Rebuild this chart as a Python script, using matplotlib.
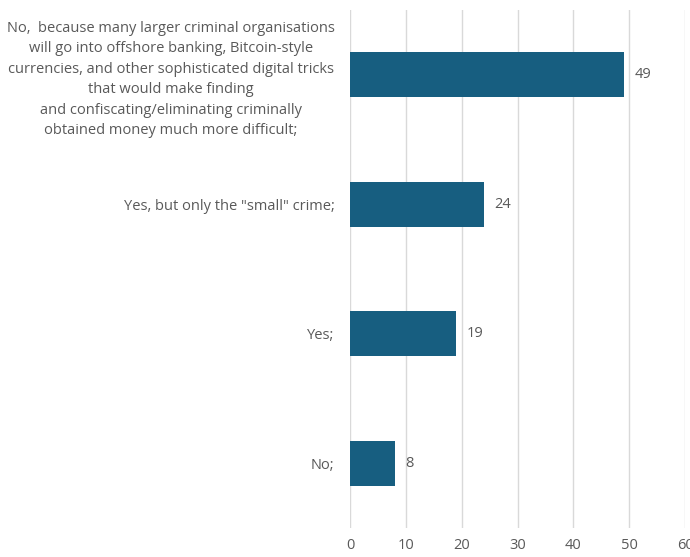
import matplotlib
matplotlib.use("Agg")
import matplotlib.pyplot as plt

categories = [
    "No,  because many larger criminal organisations\nwill go into offshore banking, Bitcoin-style\ncurrencies, and other sophisticated digital tricks\nthat would make finding\nand confiscating/eliminating criminally\nobtained money much more difficult;",
    'Yes, but only the "small" crime;',
    "Yes;",
    "No;",
]
values = [49, 24, 19, 8]
xticks = [0, 10, 20, 30, 40, 50, 60]

plt.rcParams['font.family'] = ['Open Sans', 'DejaVu Sans']
text_color = '#595959'

fig = plt.figure(figsize=(6.9, 5.57), dpi=100)
ax = fig.add_axes([350/690, 1-528/557, 335/690, 518/557])

ypos = list(range(len(categories)))
ax.barh(ypos, values, height=0.35, color='#175e80', zorder=3)
ax.set_ylim(len(categories)-0.5, -0.5)
ax.set_xlim(0, 60)
ax.set_xticks(xticks)
ax.set_yticks(ypos)
ax.set_yticklabels(categories)
for lab in ax.get_yticklabels():
    lab.set_multialignment('center')
    lab.set_linespacing(1.5)
for v, y in zip(values, ypos):
    ax.text(v + 1.9, y, str(v), va='center', ha='left', fontsize=10.5, color=text_color)

ax.grid(axis='x', color='#d9d9d9', linewidth=1, zorder=0)
for s in ax.spines.values():
    s.set_visible(False)
ax.tick_params(axis='both', length=0, colors=text_color, labelsize=10.5)
ax.tick_params(axis='y', pad=11)
ax.tick_params(axis='x', pad=7)

fig.savefig('out.png', dpi=100)
